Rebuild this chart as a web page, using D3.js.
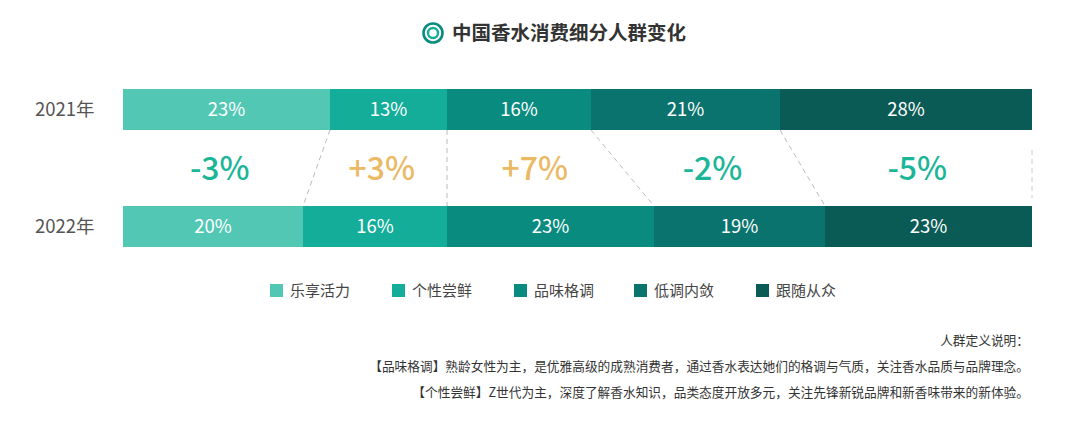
<!DOCTYPE html>
<html><head><meta charset="utf-8">
<script src="https://cdn.jsdelivr.net/npm/d3@7"></script>
<style>
html,body{margin:0;padding:0;background:#fff;}
svg{display:block;font-family:"Noto Sans CJK SC","Noto Sans",sans-serif;}
</style></head>
<body>
<svg id="chart" width="1080" height="422"></svg>
<script>
const years = ["2021年", "2022年"];
const segments = ["乐享活力", "个性尝鲜", "品味格调", "低调内敛", "跟随从众"];
const values2021 = [23, 13, 16, 21, 28];
const values2022 = [20, 16, 23, 19, 23];
const changes = ["-3%", "+3%", "+7%", "-2%", "-5%"];
const colors = ["#52c8b4", "#13ad99", "#0a8b80", "#0b736e", "#0a5a55"];
const title = "中国香水消费细分人群变化";
const notes = [
  "人群定义说明：",
  "【品味格调】熟龄女性为主，是优雅高级的成熟消费者，通过香水表达她们的格调与气质，关注香水品质与品牌理念。",
  "【个性尝鲜】Z世代为主，深度了解香水知识，品类态度开放多元，关注先锋新锐品牌和新香味带来的新体验。"
];

const svg = d3.select("#chart");
const rows = [values2021, values2022];
const x = d3.scaleLinear().domain([0, d3.sum(values2021)]).range([123, 1032]);
const y = d3.scalePoint().domain(years).range([89, 206]);
const bh = 41;

// title
const tg = svg.append("g");
tg.append("circle").attr("cx", 433).attr("cy", 33).attr("r", 9.5).attr("fill", "none").attr("stroke", "#0a8b80").attr("stroke-width", 2.6);
tg.append("circle").attr("cx", 433).attr("cy", 33).attr("r", 5).attr("fill", "none").attr("stroke", "#13ad99").attr("stroke-width", 2.4);
tg.append("text").attr("x", 452).attr("y", 40).attr("font-size", 19.5).attr("font-weight", 700).attr("fill", "#333").text(title);

// cumulative
const cum = rows.map(r => { let s = 0; return r.map(v => { const a = s; s += v; return [a, s]; }); });

// bars
rows.forEach((r, ri) => {
  const g = svg.append("g");
  g.selectAll("rect").data(cum[ri]).join("rect")
    .attr("x", d => x(d[0])).attr("y", y(years[ri]))
    .attr("width", d => x(d[1]) - x(d[0])).attr("height", bh)
    .attr("fill", (d, i) => colors[i]);
  g.selectAll("text").data(cum[ri]).join("text")
    .attr("x", d => (x(d[0]) + x(d[1])) / 2).attr("y", y(years[ri]) + bh / 2 + 6.5)
    .attr("text-anchor", "middle").attr("font-size", 18.5).attr("fill", "#fff")
    .text((d, i) => r[i] + "%");
  svg.append("text").attr("x", 35).attr("y", y(years[ri]) + bh / 2 + 6.5)
    .attr("font-size", 18.5).attr("fill", "#555").text(years[ri]);
});

// dashed connectors
const y1 = y(years[0]) + bh, y2 = y(years[1]);
const conn = d3.range(4).map(i => [x(cum[0][i][1]), x(cum[1][i][1])]);
svg.append("g").selectAll("line").data(conn).join("line")
  .attr("x1", d => d[0]).attr("y1", y1).attr("x2", d => d[1]).attr("y2", y2)
  .attr("stroke", "#bbb").attr("stroke-width", 1).attr("stroke-dasharray", "5,4");
svg.append("line").attr("x1", x(101)).attr("x2", x(101)).attr("y1", 150).attr("y2", 198)
  .attr("stroke", "#ccc").attr("stroke-width", 1).attr("stroke-dasharray", "5,4");

// change labels
const mids = [x(0)].concat(conn.map(d => (d[0] + d[1]) / 2)).concat([x(101)]);
svg.append("g").selectAll("text").data(changes).join("text")
  .attr("x", (d, i) => (mids[i] + mids[i + 1]) / 2).attr("y", 180)
  .attr("text-anchor", "middle").attr("font-size", 32).attr("font-weight", 500)
  .attr("fill", d => d[0] === "+" ? "#ebb964" : "#1bb597").text(d => d);

// legend
const lx = [270, 392, 514, 634, 756];
const lg = svg.append("g").selectAll("g").data(segments).join("g")
  .attr("transform", (d, i) => `translate(${lx[i]},284)`);
lg.append("rect").attr("width", 13).attr("height", 13).attr("fill", (d, i) => colors[i]);
lg.append("text").attr("x", 20).attr("y", 12).attr("font-size", 15).attr("fill", "#444").text(d => d);

// notes
svg.append("g").selectAll("text").data(notes).join("text")
  .attr("x", 1029).attr("y", (d, i) => 345 + i * 26).attr("text-anchor", "end")
  .attr("font-size", 12.7).attr("fill", "#333").text(d => d);
</script>
</body></html>
